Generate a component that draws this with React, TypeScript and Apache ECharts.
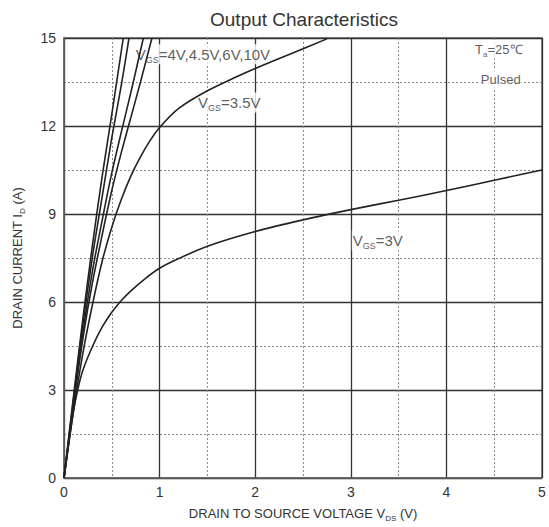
import React, { useEffect, useRef } from "react";
import * as echarts from "echarts";

const xTicks = [0, 1, 2, 3, 4, 5];
const yTicks = [0, 3, 6, 9, 12, 15];

const vgs10 = [[0, 0], [0.1, 2.8], [0.2, 5.5], [0.3, 8.0], [0.4, 10.3], [0.5, 12.4], [0.62, 15]];
const vgs6 = [[0, 0], [0.1, 2.7], [0.2, 5.3], [0.3, 7.6], [0.4, 9.6], [0.5, 11.6], [0.6, 13.4], [0.68, 15]];
const vgs45 = [[0, 0], [0.1, 2.6], [0.2, 5.0], [0.3, 7.1], [0.4, 8.8], [0.5, 10.4], [0.6, 11.8], [0.7, 13.15], [0.83, 15]];
const vgs4 = [[0, 0], [0.1, 2.5], [0.2, 4.8], [0.3, 6.7], [0.4, 8.3], [0.5, 9.8], [0.6, 11.1], [0.7, 12.3], [0.8, 13.5], [0.92, 15]];
const vgs35 = [
  [0, 0], [0.1, 2.3], [0.2, 4.3], [0.3, 5.95], [0.4, 7.4], [0.5, 8.55], [0.6, 9.5], [0.7, 10.3],
  [0.8, 10.95], [0.9, 11.5], [1, 11.95], [1.2, 12.6], [1.5, 13.2], [1.8, 13.67], [2, 13.96],
  [2.4, 14.5], [2.75, 14.97],
];
const vgs3 = [
  [0, 0], [0.05, 1.2], [0.1, 2.3], [0.15, 3.1], [0.2, 3.7], [0.3, 4.5], [0.4, 5.15], [0.5, 5.65],
  [0.6, 6.05], [0.7, 6.38], [0.85, 6.8], [1, 7.15], [1.2, 7.48], [1.5, 7.9], [2, 8.4], [2.5, 8.8],
  [3, 9.15], [3.5, 9.47], [4, 9.8], [4.5, 10.15], [5, 10.5],
];

const annotations = [
  { at: [0.74, 14.45], text: "{m|V}{s|GS}{m|=4V,4.5V,6V,10V}" },
  { at: [1.39, 12.8], text: "{m|V}{s|GS}{m|=3.5V}" },
  { at: [3.01, 8.1], text: "{m|V}{s|GS}{m|=3V}" },
  { at: [4.29, 14.6], text: "{t|T}{u|a}{t|=25℃}" },
  { at: [4.35, 13.6], text: "{t|Pulsed}" },
];

const FONT = "Liberation Sans, Arial, sans-serif";

export default function App() {
  const ref = useRef<HTMLDivElement>(null);
  useEffect(() => {
    if (!ref.current) return;
    const chart = echarts.init(ref.current, undefined, { renderer: "svg" });
    const curveStyle = { color: "#222", width: 1.6 };
    const mk = (name: string, data: number[][]) => ({
      name,
      type: "line",
      data,
      symbol: "none",
      smooth: 0.3,
      lineStyle: curveStyle,
      z: 3,
    });
    const rich = {
      m: { fontSize: 15, lineHeight: 20, color: "#333", fontFamily: FONT },
      s: { fontSize: 9, lineHeight: 9, verticalAlign: "bottom", color: "#333", fontFamily: FONT },
      t: { fontSize: 13, lineHeight: 18, color: "#333", fontFamily: FONT },
      u: { fontSize: 8, lineHeight: 8, verticalAlign: "bottom", color: "#333", fontFamily: FONT },
    };
    const nameRich = {
      a: { fontSize: 13, lineHeight: 17, color: "#333", fontFamily: FONT },
      s: { fontSize: 8, lineHeight: 8, verticalAlign: "bottom", color: "#333", fontFamily: FONT },
    };
    const axisCommon = {
      type: "value",
      axisTick: { show: false },
      axisLine: { show: true, lineStyle: { color: "#666", width: 1.5 } },
      splitLine: { show: true, lineStyle: { color: "#333", width: 1.3 } },
      minorTick: { show: false, splitNumber: 2 },
      minorSplitLine: { show: true, lineStyle: { color: "#888", width: 1, type: [2, 2] } },
      axisLabel: { color: "#333", fontSize: 14, fontFamily: FONT },
    };
    chart.setOption({
      animation: false,
      backgroundColor: "#fff",
      title: {
        text: "Output Characteristics",
        left: 299,
        top: 5,
        textAlign: "center",
        textStyle: { fontSize: 19, fontWeight: "normal", color: "#333", fontFamily: FONT },
      },
      grid: {
        left: 64,
        right: 7,
        top: 38,
        bottom: 46,
        show: true,
        borderColor: "#666",
        borderWidth: 1.5,
        backgroundColor: "transparent",
      },
      xAxis: {
        ...axisCommon,
        min: xTicks[0],
        max: xTicks[xTicks.length - 1],
        interval: xTicks[1] - xTicks[0],
        axisLabel: { ...axisCommon.axisLabel, margin: 7 },
        name: "{a|DRAIN TO SOURCE VOLTAGE V}{s|DS}{a| (V)}",
        nameLocation: "middle",
        nameGap: 27,
        nameTextStyle: { rich: nameRich },
      },
      yAxis: {
        ...axisCommon,
        min: yTicks[0],
        max: yTicks[yTicks.length - 1],
        interval: yTicks[1] - yTicks[0],
        axisLabel: { ...axisCommon.axisLabel, margin: 8 },
        name: "{a|DRAIN CURRENT I}{s|D}{a| (A)}",
        nameLocation: "middle",
        nameGap: 38,
        nameTextStyle: { rich: nameRich },
      },
      series: [
        mk("VGS=10V", vgs10),
        mk("VGS=6V", vgs6),
        mk("VGS=4.5V", vgs45),
        mk("VGS=4V", vgs4),
        mk("VGS=3.5V", vgs35),
        mk("VGS=3V", vgs3),
        {
          name: "labels",
          type: "scatter",
          z: 1,
          symbolSize: 0,
          silent: true,
          data: annotations.map((a) => ({
            value: a.at,
            label: {
              show: true,
              position: "right",
              distance: 0,
              formatter: a.text,
              backgroundColor: "#fff",
              padding: [0, 1, 0, 1],
              rich,
            },
          })),
        },
      ],
    });
    return () => chart.dispose();
  }, []);
  return (
    <div
      ref={ref}
      style={{ position: "fixed", left: 0, top: 0, width: 549, height: 527, background: "#fff" }}
    />
  );
}
